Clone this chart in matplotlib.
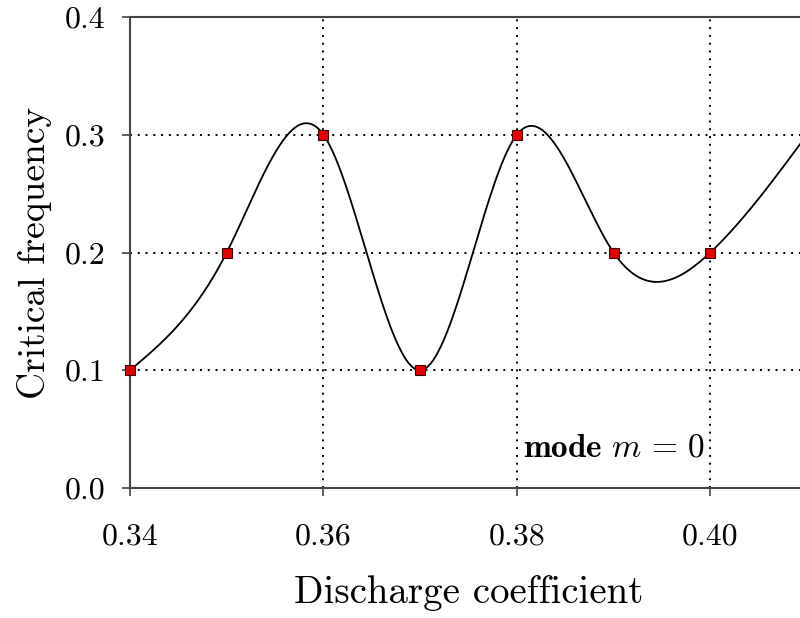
import numpy as np
import matplotlib
matplotlib.use("Agg")
import matplotlib.pyplot as plt

# data
discharge = [0.34, 0.35, 0.36, 0.37, 0.38, 0.39, 0.40, 0.41]
crit_freq = [0.1, 0.2, 0.3, 0.1, 0.3, 0.2, 0.2, 0.3]
xticks = [0.34, 0.36, 0.38, 0.40]
yticks = [0.0, 0.1, 0.2, 0.3, 0.4]


def natural_spline(x, y, xs):
    """natural cubic spline through (x, y), evaluated at xs"""
    x = np.asarray(x, float)
    y = np.asarray(y, float)
    n = len(x)
    h = np.diff(x)
    A = np.zeros((n, n))
    b = np.zeros(n)
    A[0, 0] = A[-1, -1] = 1.0
    for i in range(1, n - 1):
        A[i, i - 1] = h[i - 1]
        A[i, i] = 2 * (h[i - 1] + h[i])
        A[i, i + 1] = h[i]
        b[i] = 3 * ((y[i + 1] - y[i]) / h[i] - (y[i] - y[i - 1]) / h[i - 1])
    c = np.linalg.solve(A, b)
    bb = (y[1:] - y[:-1]) / h - h * (2 * c[:-1] + c[1:]) / 3
    d = (c[1:] - c[:-1]) / (3 * h)
    idx = np.clip(np.searchsorted(x, xs) - 1, 0, n - 2)
    dx = xs - x[idx]
    return y[idx] + bb[idx] * dx + c[idx] * dx ** 2 + d[idx] * dx ** 3


plt.rcParams['font.family'] = 'serif'
plt.rcParams['font.serif'] = ['cmr10']
plt.rcParams['mathtext.fontset'] = 'cm'
plt.rcParams['axes.formatter.use_mathtext'] = True

fig = plt.figure(figsize=(8, 6.18), dpi=100)
ax = fig.add_axes([130 / 800, 130 / 618, 677 / 800, 471 / 618])

xs = np.linspace(discharge[0], discharge[-1], 400)
ax.plot(xs, natural_spline(discharge, crit_freq, xs), color='black', lw=1.3, zorder=3)
ax.plot(discharge, crit_freq, 's', color='#e00000', mec='#400000', mew=0.8,
        ms=7.5, zorder=4, clip_on=False)

ax.set_xlim(0.34, 0.41)
ax.set_ylim(0.0, 0.4)
ax.set_xticks(xticks)
ax.set_xticklabels([f'{v:.2f}' for v in xticks])
ax.set_yticks(yticks)
ax.set_yticklabels([f'{v:.1f}' for v in yticks])
ax.grid(True, color='black', linestyle=(0, (1, 3)), linewidth=1.4)
ax.tick_params(direction='out', length=6, width=1.2, color='#444444',
               labelsize=23, pad=12)
ax.tick_params(axis='x', pad=19)
for side in ['left', 'bottom', 'top']:
    ax.spines[side].set_color('#444444')
    ax.spines[side].set_linewidth(1.5)
ax.spines['right'].set_visible(False)

ax.set_xlabel('Discharge coefficient', fontsize=28, labelpad=18)
ax.set_ylabel('Critical frequency', fontsize=27, labelpad=9)
ax.text(0.3995, 0.027, r'$\mathbf{mode}\ m\,=\,0$', fontsize=24,
        ha='right', va='baseline')

fig.savefig('out.png', dpi=100)
